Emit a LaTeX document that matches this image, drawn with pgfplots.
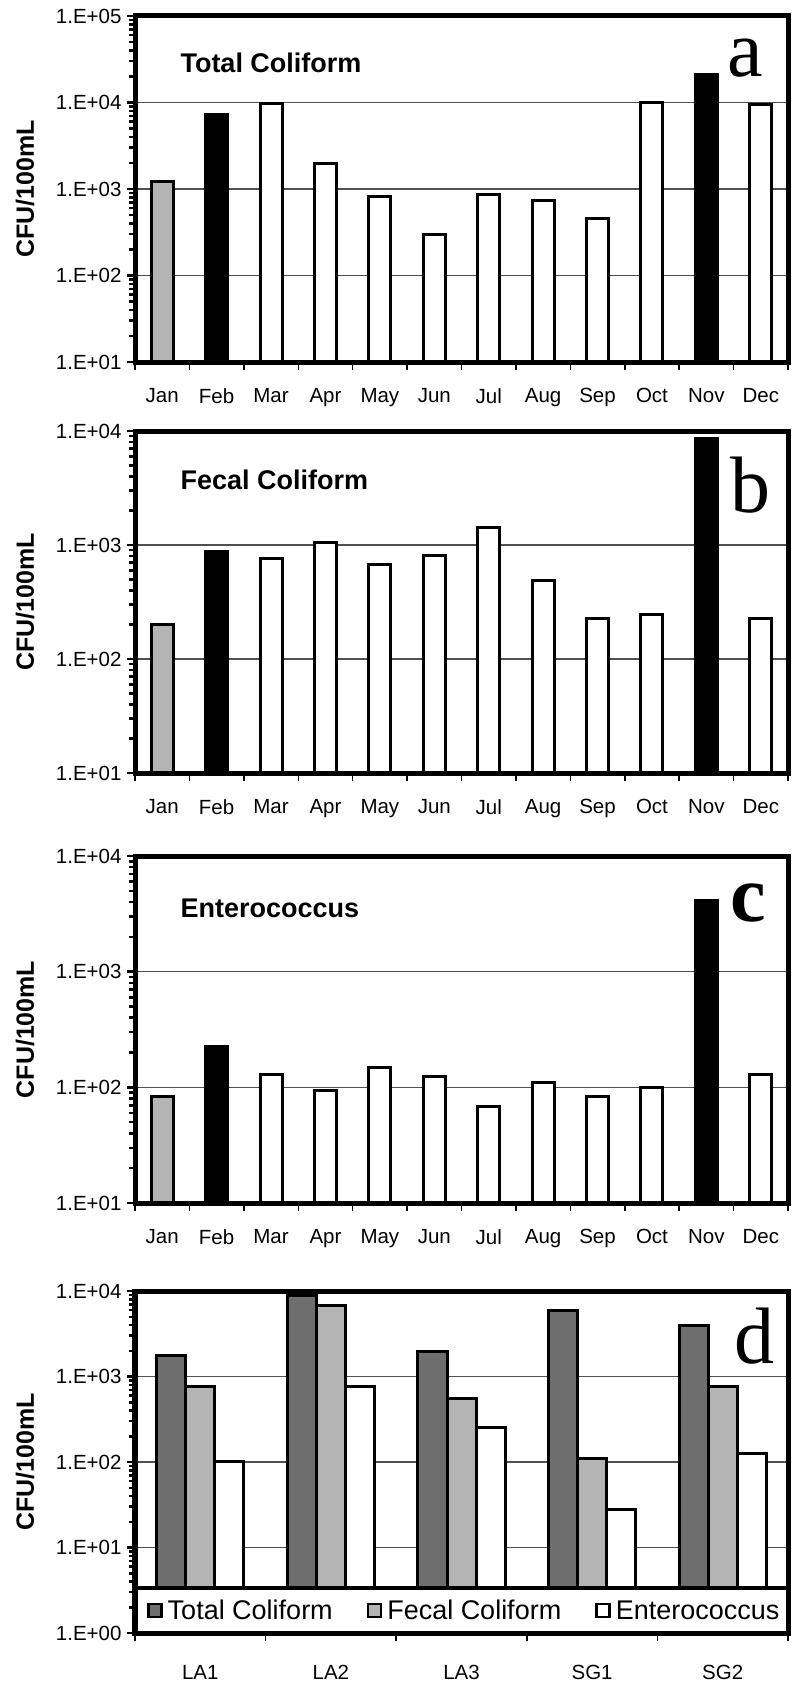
\documentclass[border=0pt]{standalone}
\usepackage{pgfplots}
\pgfplotsset{compat=1.18}
\usepackage{fontspec}
\setmainfont{Liberation Sans}
\newfontfamily\serifletter{Liberation Serif}
\definecolor{lgray}{RGB}{180,180,180}
\definecolor{dgray}{RGB}{110,110,110}
\definecolor{gridgray}{RGB}{80,80,80}

\pgfplotsset{
  mypanelstyle/.style={
    scale only axis, width=653bp,
    clip=false,
    axis line style={line width=5bp},
    tick align=outside, tick pos=left,
    xticklabels={},
    extra x tick style={tick style={draw=none}},
    x tick style={line width=1.5bp, black},
    y tick style={line width=2.5bp, black},
    minor y tick style={line width=2.5bp, black},
    major tick length=8bp, minor tick length=6bp,
    ymajorgrids, major grid style={gridgray, line width=1.5bp},
    ticklabel style={font=\fontsize{20.5bp}{24bp}\selectfont},
    yticklabel style={xshift=-2bp},
    xticklabel style={yshift=-15bp},
  },
  mymonthstyle/.style={
    xmin=0.5, xmax=12.5,
    xtick={0.5,1.5,...,12.5},
    extra x ticks={1,2,3,4,5,6,7,8,9,10,11,12},
    extra x tick labels={Jan,Feb,Mar,Apr,May,Jun,Jul,Aug,Sep,Oct,Nov,Dec},
  },
}
\tikzset{mybarstyle/.style={draw=black, line width=3bp}}
\newcommand{\ylab}{\node[rotate=90, font=\bfseries\fontsize{25bp}{28bp}\selectfont] at (rel axis cs:-0.1685,0.5) {CFU/100mL};}
\newcommand{\frameit}{\draw[line width=5bp] (rel axis cs:0,0) rectangle (rel axis cs:1,1);}

\begin{document}
\begin{tikzpicture}
\useasboundingbox (0,0) rectangle (800bp,-1683bp);

% ---------- a ----------
\begin{axis}[ymode=log, log origin=infty, ybar, bar width=22bp, bar shift=0pt,
  mypanelstyle, mymonthstyle, at={(135bp,-362bp)}, anchor=south west, height=346bp,
  ymin=10, ymax=100000,
  ytick={10,100,1000,10000,100000},
  minor ytick={20,30,40,50,60,70,80,90,200,300,400,500,600,700,800,900,2000,3000,4000,5000,6000,7000,8000,9000,20000,30000,40000,50000,60000,70000,80000,90000},
  yticklabels={1.E+01,1.E+02,1.E+03,1.E+04,1.E+05}]
\addplot[mybarstyle, fill=lgray, bar shift=0pt] coordinates {(1,1215)};
\addplot[mybarstyle, fill=black, bar shift=0pt] coordinates {(2,7300) (11,21300)};
\addplot[mybarstyle, fill=white, bar shift=0pt] coordinates {(3,9800) (4,1980) (5,815) (6,300) (7,868) (8,727) (9,450) (10,9900) (12,9360)};
\frameit
\ylab
\node[anchor=base west, font=\bfseries\fontsize{27bp}{30bp}\selectfont] at (rel axis cs:0.0643,0.838) {Total Coliform};
\node[anchor=base, font=\serifletter\fontsize{80bp}{80bp}\selectfont] at (rel axis cs:0.934,0.824) {a};
\end{axis}

% ---------- b ----------
\begin{axis}[ymode=log, log origin=infty, ybar, bar width=22bp, bar shift=0pt,
  mypanelstyle, mymonthstyle, at={(135bp,-773bp)}, anchor=south west, height=342bp,
  ymin=10, ymax=10000,
  ytick={10,100,1000,10000},
  minor ytick={20,30,40,50,60,70,80,90,200,300,400,500,600,700,800,900,2000,3000,4000,5000,6000,7000,8000,9000},
  yticklabels={1.E+01,1.E+02,1.E+03,1.E+04}]
\addplot[mybarstyle, fill=lgray, bar shift=0pt] coordinates {(1,199)};
\addplot[mybarstyle, fill=black, bar shift=0pt] coordinates {(2,885) (11,8630)};
\addplot[mybarstyle, fill=white, bar shift=0pt] coordinates {(3,764) (4,1047) (5,668) (6,801) (7,1429) (8,486) (9,227) (10,247) (12,227)};
\frameit
\ylab
\node[anchor=base west, font=\bfseries\fontsize{27bp}{30bp}\selectfont] at (rel axis cs:0.0643,0.830) {Fecal Coliform};
\node[anchor=base, font=\serifletter\fontsize{80bp}{80bp}\selectfont] at (rel axis cs:0.943,0.763) {b};
\end{axis}

% ---------- c ----------
\begin{axis}[ymode=log, log origin=infty, ybar, bar width=22bp, bar shift=0pt,
  mypanelstyle, mymonthstyle, at={(135bp,-1203bp)}, anchor=south west, height=347bp,
  ymin=10, ymax=10000,
  ytick={10,100,1000,10000},
  minor ytick={20,30,40,50,60,70,80,90,200,300,400,500,600,700,800,900,2000,3000,4000,5000,6000,7000,8000,9000},
  yticklabels={1.E+01,1.E+02,1.E+03,1.E+04}]
\addplot[mybarstyle, fill=lgray, bar shift=0pt] coordinates {(1,84)};
\addplot[mybarstyle, fill=black, bar shift=0pt] coordinates {(2,224) (11,4160)};
\addplot[mybarstyle, fill=white, bar shift=0pt] coordinates {(3,130) (4,93.5) (5,149) (6,125) (7,68) (8,110) (9,84) (10,100) (12,130)};
\frameit
\ylab
\node[anchor=base west, font=\bfseries\fontsize{27bp}{30bp}\selectfont] at (rel axis cs:0.0643,0.823) {Enterococcus};
\node[anchor=base, font=\serifletter\bfseries\fontsize{80bp}{80bp}\selectfont] at (rel axis cs:0.939,0.810) {c};
\end{axis}

% ---------- d ----------
\begin{axis}[ymode=log, log origin=infty,
  mypanelstyle, at={(135bp,-1633bp)}, anchor=south west, height=342bp,
  ybar=0pt, bar width=29bp,
  xmin=0.5, xmax=5.5,
  xtick={0.5,1.5,...,5.5},
  extra x ticks={1,2,3,4,5},
  extra x tick labels={LA1,LA2,LA3,SG1,SG2},
  xticklabel style={yshift=-6bp},
  ymin=1, ymax=10000,
  ytick={1,10,100,1000,10000},
  minor ytick={2,3,4,5,6,7,8,9,20,30,40,50,60,70,80,90,200,300,400,500,600,700,800,900,2000,3000,4000,5000,6000,7000,8000,9000},
  yticklabels={1.E+00,1.E+01,1.E+02,1.E+03,1.E+04},
  legend columns=3,
  legend style={at={(rel axis cs:0.0184,0.0658)}, anchor=west, draw=none, fill=none,
    inner sep=0pt, font=\fontsize{27bp}{30bp}\selectfont,
    cells={anchor=west}, nodes={inner xsep=5bp, inner ysep=0pt},
    /tikz/every even column/.append style={column sep=29bp}},
  legend image code/.code={\draw[#1, line width=2.5bp] (0bp,-6.5bp) rectangle (13bp,6.5bp);}]
\addplot[fill=dgray, draw=black, line width=3bp] coordinates {(1,1750) (2,8980) (3,1950) (4,5890) (5,4000)};
\addplot[fill=lgray, draw=black, line width=3bp] coordinates {(1,760) (2,6860) (3,556) (4,110) (5,760)};
\addplot[fill=white, draw=black, line width=3bp] coordinates {(1,101) (2,760) (3,255) (4,28) (5,126)};
\legend{Total Coliform, Fecal Coliform, Enterococcus}
\draw[fill=white, line width=4bp] (rel axis cs:0,0) rectangle (rel axis cs:1,0.1316);
\frameit
\ylab
\node[anchor=base, font=\serifletter\fontsize{80bp}{80bp}\selectfont] at (rel axis cs:0.948,0.789) {d};
\end{axis}
\end{tikzpicture}
\end{document}
